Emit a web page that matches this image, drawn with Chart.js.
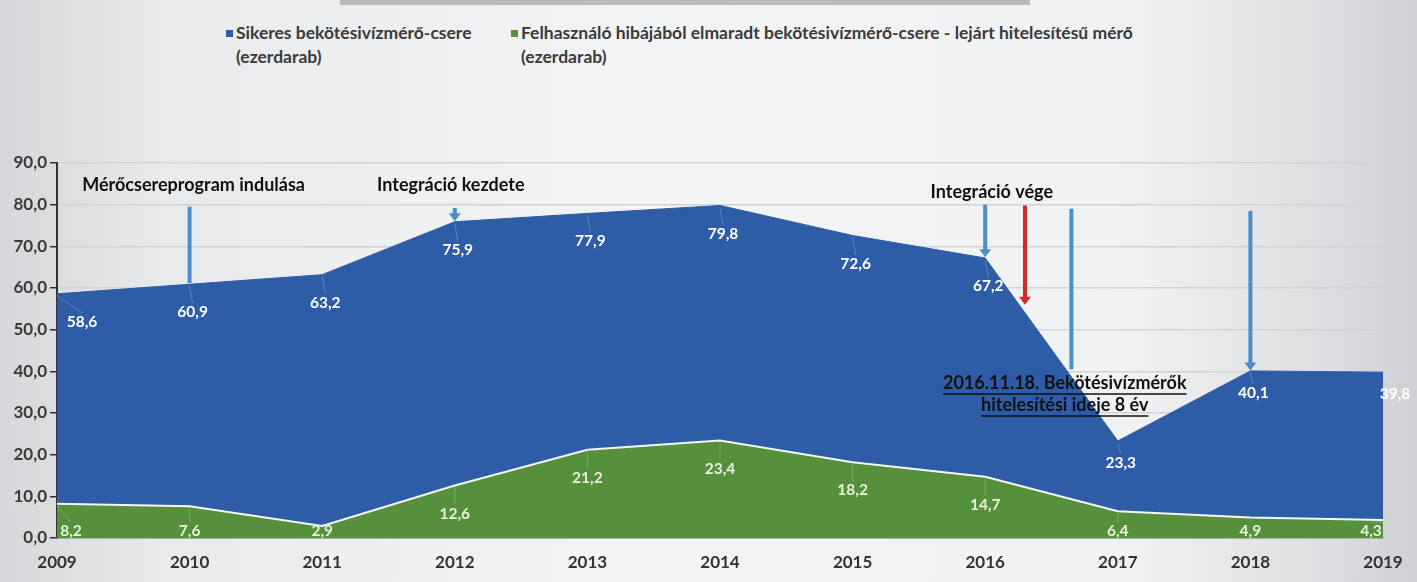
<!DOCTYPE html>
<html>
<head>
<meta charset="utf-8">
<script src="https://cdn.jsdelivr.net/npm/chart.js@4/dist/chart.umd.min.js"></script>
<style>
  html, body { margin: 0; padding: 0; }
  body {
    width: 1417px; height: 582px; overflow: hidden; position: relative;
    background: linear-gradient(to right, #d6d7da 0%, #e9eaec 12%, #f3f4f5 45%, #f0f1f3 80%, #dcdde0 94%, #cfd0d3 100%);
    font-family: Lato, "Noto Sans", sans-serif;
  }
  #topbar { position: absolute; left: 340px; top: 0; width: 690px; height: 5px; background: #b9babc; }
  .leg { position: absolute; top: 21px; font-weight: bold; font-size: 17.5px; color: #3a3a3a; line-height: 24px; }
  .leg i { position: absolute; left: -10px; top: 9px; width: 7px; height: 7px; }
  #wrap { position: absolute; left: 0; top: 0; width: 1417px; height: 582px; }
</style>
</head>
<body>
<div id="topbar"></div>
<div class="leg" style="left:236px"><i style="background:#2f5ca6"></i>Sikeres bekötésivízmérő-csere<br>(ezerdarab)</div>
<div class="leg" style="left:521px"><i style="background:#55903b"></i>Felhasználó hibájából elmaradt bekötésivízmérő-csere - lejárt hitelesítésű mérő<br>(ezerdarab)</div>
<div id="wrap"><canvas id="grafico"></canvas></div>
<script>
const evek = ["2009", "2010", "2011", "2012", "2013", "2014", "2015", "2016", "2017", "2018", "2019"];
const sikeres = [58.6, 60.9, 63.2, 75.9, 77.9, 79.8, 72.6, 67.2, 23.3, 40.1, 39.8];
const elmaradt = [8.2, 7.6, 2.9, 12.6, 21.2, 23.4, 18.2, 14.7, 6.4, 4.9, 4.3];
const yTicks = [0, 10, 20, 30, 40, 50, 60, 70, 80, 90];

// annotations: x as year index (fractional), y as value
const nyilak = [
    { x: 1, y1: 79.5, y2: 61.2, szin: "#4b8ecb", fej: false },
    { x: 3, y1: 79.2, y2: 76.0, szin: "#4b8ecb", fej: true },
    { x: 7, y1: 80.0, y2: 67.4, szin: "#4b8ecb", fej: true },
    { x: 7.3, y1: 79.8, y2: 56.0, szin: "#d12a26", fej: true },
    { x: 7.65, y1: 79.0, y2: 40.5, szin: "#4b8ecb", fej: false },
    { x: 9, y1: 78.5, y2: 40.2, szin: "#4b8ecb", fej: true }
];
const feliratok = [
    { text: "Mérőcsereprogram indulása", x: 1.03, y: 84.6, alahuz: false },
    { text: "Integráció kezdete", x: 2.97, y: 84.6, alahuz: false },
    { text: "Integráció vége", x: 7.05, y: 83.0, alahuz: false },
    { text: "2016.11.18. Bekötésivízmérők", x: 7.6, y: 37.2, alahuz: true },
    { text: "hitelesítési ideje 8 év", x: 7.6, y: 31.9, alahuz: true }
];

const fmt = v => v.toFixed(1).replace(".", ",");
const betu = "Lato, 'Noto Sans', sans-serif";

const rajzolo = {
    id: "rajzolo",
    afterDatasetsDraw(chart) {
        const ctx = chart.ctx;
        const xs = chart.scales.x, ys = chart.scales.y;
        ctx.save();
        // data labels
        ctx.font = "bold 15.5px " + betu;
        ctx.textAlign = "center";
        ctx.textBaseline = "middle";
        chart.data.datasets.forEach((ds, di) => {
            const utolso = ds.data.length - 1;
            ds.data.forEach((v, i) => {
                const px = xs.getPixelForValue(i);
                const py = ys.getPixelForValue(v);
                let lx = px + (di === 0 ? 3 : 0);
                if (i === 0) lx = px + (di === 0 ? 25 : 14);
                if (i === utolso) lx = px + (di === 0 ? 12 : -12);
                let ly = Math.min(py + 28, ys.getPixelForValue(0) - 7);
                if (di === 0 && i >= 8) ly = py + 22;
                ctx.strokeStyle = "rgba(255,255,255,0.22)";
                ctx.lineWidth = 1;
                ctx.beginPath();
                ctx.moveTo(px, py + 2);
                ctx.lineTo(lx, ly - 9);
                ctx.stroke();
                ctx.fillStyle = di === 0 ? "#ffffff" : "#e8f1df";
                ctx.fillText(fmt(v), lx, ly);
            });
        });
        // arrows
        nyilak.forEach(n => {
            const x = xs.getPixelForValue(n.x);
            const y1 = ys.getPixelForValue(n.y1);
            const y2 = ys.getPixelForValue(n.y2);
            ctx.strokeStyle = n.szin;
            ctx.fillStyle = n.szin;
            ctx.lineWidth = 4;
            ctx.beginPath();
            ctx.moveTo(x, y1);
            ctx.lineTo(x, n.fej ? y2 - 7 : y2);
            ctx.stroke();
            if (n.fej) {
                ctx.beginPath();
                ctx.moveTo(x - 6, y2 - 8);
                ctx.lineTo(x + 6, y2 - 8);
                ctx.lineTo(x, y2);
                ctx.closePath();
                ctx.fill();
            }
        });
        // text annotations
        ctx.font = "bold 18px " + betu;
        ctx.fillStyle = "#111";
        feliratok.forEach(f => {
            const x = xs.getPixelForValue(f.x);
            const y = ys.getPixelForValue(f.y);
            ctx.fillText(f.text, x, y);
            if (f.alahuz) {
                const w = ctx.measureText(f.text).width;
                ctx.strokeStyle = "#111";
                ctx.lineWidth = 1.5;
                ctx.beginPath();
                ctx.moveTo(x - w / 2, y + 11);
                ctx.lineTo(x + w / 2, y + 11);
                ctx.stroke();
            }
        });
        ctx.restore();
    }
};

const ctx = document.getElementById("grafico").getContext("2d");
new Chart(ctx, {
    type: "line",
    data: {
        labels: evek,
        datasets: [{
            label: "Sikeres bekötésivízmérő-csere (ezerdarab)",
            data: sikeres,
            backgroundColor: "#2f5ca6",
            borderColor: "#2f5ca6",
            borderWidth: 1,
            fill: "origin",
            pointRadius: 0,
            tension: 0,
            order: 1
        }, {
            label: "Felhasználó hibájából elmaradt bekötésivízmérő-csere - lejárt hitelesítésű mérő (ezerdarab)",
            data: elmaradt,
            backgroundColor: "#55903b",
            borderColor: "#f4f6f2",
            borderWidth: 2,
            fill: "origin",
            pointRadius: 0,
            tension: 0,
            order: 0
        }]
    },
    options: {
        responsive: true,
        maintainAspectRatio: false,
        animation: false,
        layout: { padding: { top: 163, right: 34, left: 0, bottom: 0 } },
        plugins: {
            legend: { display: false },
            tooltip: { enabled: false }
        },
        scales: {
            x: {
                offset: false,
                afterFit: s => { s.height = 44; },
                grid: { display: false, drawTicks: false },
                border: { color: "#b0b0b0", width: 1 },
                ticks: {
                    color: "#333",
                    padding: 14,
                    maxRotation: 0,
                    font: { family: betu, size: 17, weight: "bold" }
                }
            },
            y: {
                min: 0,
                max: 90,
                afterFit: s => { s.width = 57; },
                afterBuildTicks: s => { s.ticks = yTicks.map(v => ({ value: v })); },
                grid: { color: "#d2d3d5", lineWidth: 1.5, drawTicks: true, tickLength: 7, tickColor: "#333" },
                border: { color: "#333", width: 2 },
                ticks: {
                    color: "#3a3a3a",
                    padding: 3,
                    callback: v => fmt(v),
                    font: { family: betu, size: 17, weight: "bold" }
                }
            }
        }
    },
    plugins: [rajzolo]
});
</script>
</body>
</html>
